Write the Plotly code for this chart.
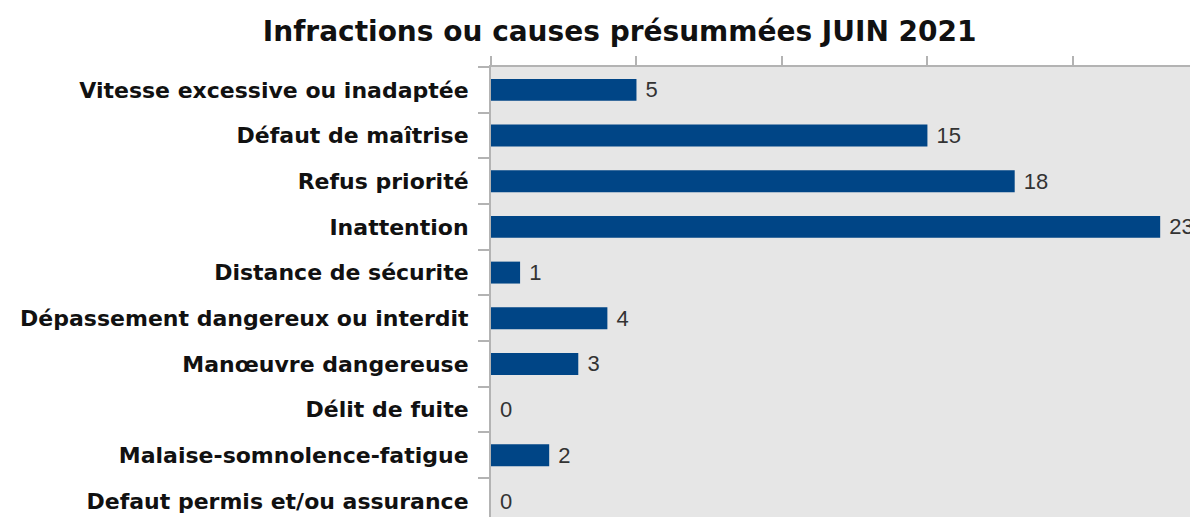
import plotly.graph_objects as go

categories = [
    "Vitesse excessive ou inadaptée",
    "Défaut de maîtrise",
    "Refus priorité",
    "Inattention",
    "Distance de sécurite",
    "Dépassement dangereux ou interdit",
    "Manœuvre dangereuse",
    "Délit de fuite",
    "Malaise-somnolence-fatigue",
    "Defaut permis et/ou assurance",
]
values = [5, 15, 18, 23, 1, 4, 3, 0, 2, 0]
x_ticks = [0, 5, 10, 15, 20]

BAR_COLOR = '#004586'
GRID_GRAY = '#b3b3b3'

fig = go.Figure(go.Bar(
    x=values,
    y=categories,
    orientation='h',
    marker=dict(color=BAR_COLOR, line=dict(width=0)),
    text=["\u00a0" + str(v) for v in values],
    textposition='outside',
    constraintext='none',
    textfont=dict(family="Liberation Sans, Arial, sans-serif", size=22, color='#333333'),
    cliponaxis=False,
    width=0.48,
))

# the page body adds an 8px margin, so the figure is a bit smaller than the window
fig.update_layout(
    width=1190,
    height=509,
    margin=dict(l=483, r=0, t=59, b=0),
    plot_bgcolor='#e6e6e6',
    paper_bgcolor='white',
    showlegend=False,
    title=dict(
        text="<b>Infractions ou causes présummées JUIN 2021</b>",
        xref='container', x=0.514, xanchor='center',
        yref='container', y=0.955, yanchor='middle',
        font=dict(family="DejaVu Sans, sans-serif", size=28, color='#111111'),
    ),
    xaxis=dict(
        side='top',
        range=[0, 24.3],
        tickvals=x_ticks,
        showticklabels=False,
        ticks='outside', ticklen=9, tickcolor=GRID_GRAY, tickwidth=2,
        showgrid=False, zeroline=False,
        showline=True, linecolor=GRID_GRAY, linewidth=2,
        automargin=False,
    ),
    yaxis=dict(
        categoryorder='array', categoryarray=categories,
        range=[9.35, -0.5],
        tickson='boundaries',
        ticks='outside', ticklen=11, tickcolor=GRID_GRAY, tickwidth=2,
        showgrid=False, zeroline=False,
        showline=True, linecolor=GRID_GRAY, linewidth=2,
        tickfont=dict(family="DejaVu Sans, sans-serif", size=22, color='#111111', weight='bold'),
        ticklabelstandoff=16,
        automargin=False,
    ),
)

fig.write_html("out.html")
